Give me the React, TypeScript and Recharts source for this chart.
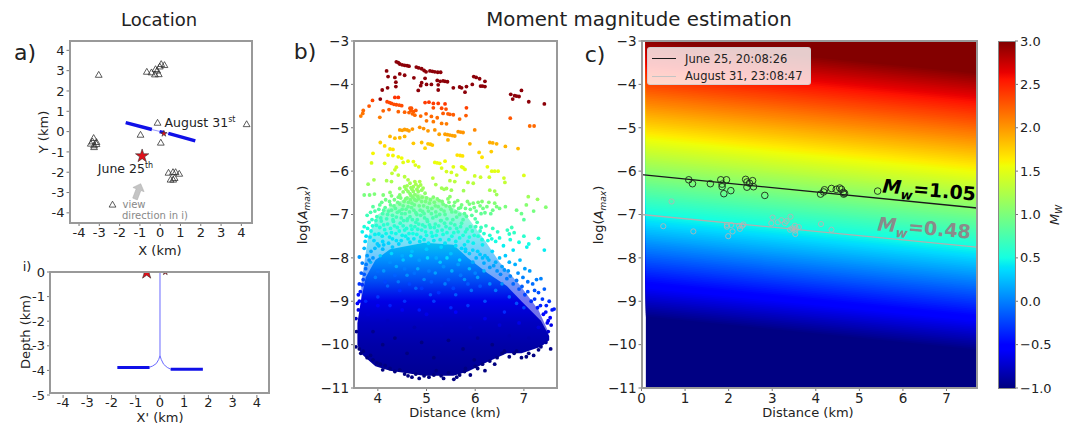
import type { CSSProperties, ReactNode } from 'react'
import { Area, ComposedChart, Line, ReferenceArea, Scatter, Symbols, XAxis, YAxis } from 'recharts'

type Pt = [number, number]

const FONT = '"DejaVu Sans", sans-serif'
const INK = '#222'
const SPINE = '#999'

// panel a: station triangles and event stars, km
const stations: Pt[] = [
  [-3.03, 2.77], [-0.66, 2.92], [-0.43, 2.89], [-0.23, 3.05], [-0.26, 2.79], [-0.07, 2.8], [-0.15, 2.98],
  [-0.02, 3.18], [0.05, 3.3], [0.21, 3.25], [-0.13, 0.41], [4.26, 0.34], [-0.97, -0.18], [0.03, -0.57],
  [-3.28, -0.34], [-3.34, -0.51], [-3.14, -0.54], [-3.42, -0.62], [-3.26, -0.7], [-3.14, -0.64], [-3.26, -0.79],
  [0.41, -2.05], [0.63, -2.02], [0.76, -2.02], [0.94, -2.1], [0.51, -2.39], [0.64, -2.39], [0.71, -2.31],
  [-2.35, -3.62],
]
const juneStar: Pt[] = [[-0.89, -1.2]]
const augStar: Pt[] = [[0.18, -0.1]]
const wellWest: Pt[] = [[-1.7, 0.44], [-0.41, 0.1]]
const wellMiddle: Pt[] = [[-0.41, 0.1], [0.4, -0.09]]
const wellCentre: Pt[] = [[-0.03, 0.0], [0.2, -0.05]]
const wellEast: Pt[] = [[0.4, -0.09], [1.73, -0.46]]

// panel i: section view
const sectionWest: Pt[] = [[-1.76, -3.88], [-0.43, -3.88]]
const sectionEast: Pt[] = [[0.44, -3.95], [1.77, -3.95]]
const boreWest: Pt[] = [[0, 0], [0, -3.4], [-0.05, -3.55], [-0.15, -3.72], [-0.3, -3.82], [-0.43, -3.87]]
const boreEast: Pt[] = [[0, -3.4], [0.05, -3.55], [0.15, -3.75], [0.3, -3.88], [0.44, -3.95]]
const sectionJune: Pt[] = [[-0.55, -0.02]]
const sectionAug: Pt[] = [[0.22, 0.0]]

// panel b: distance, log(Amax)
const darkRedPts: Pt[] = [
  [4.38, -3.48], [4.45, -3.53], [4.55, -3.56], [4.64, -3.58], [4.79, -3.6], [4.9, -3.64], [4.99, -3.71], [5.07, -3.69],
  [5.17, -3.71], [5.29, -3.72], [4.18, -3.69], [4.21, -3.82], [4.35, -3.84], [4.45, -3.76], [4.55, -3.79], [4.74, -3.85],
  [4.97, -3.86], [4.9, -3.96], [4.88, -4.03], [4.83, -4.14], [5.0, -4.0], [5.1, -4.0], [5.24, -4.01], [5.22, -3.91],
  [5.34, -3.92], [5.43, -3.94], [5.24, -4.13], [5.55, -4.08], [5.72, -4.08], [5.82, -4.05], [5.79, -4.18], [5.94, -4.0],
  [5.97, -3.82], [6.09, -3.87], [6.11, -4.04], [6.2, -4.05], [6.2, -3.93], [4.09, -4.13], [4.2, -4.08], [4.37, -3.95],
  [4.37, -4.05], [4.05, -4.34], [6.73, -4.23], [6.81, -4.26], [6.9, -4.28], [6.77, -4.34], [6.95, -4.14], [7.1, -4.4],
  [7.42, -4.45], [4.42, -3.5], [4.5, -3.55], [4.6, -3.57], [4.84, -3.62], [4.95, -3.68], [5.12, -3.7], [5.23, -3.72],
  [5.28, -3.93], [5.38, -3.93], [5.68, -4.06], [6.02, -3.84], [6.15, -4.04], [6.85, -4.27],
]
const orangeRedPts: Pt[] = [
  [4.35, -4.3], [4.42, -4.3], [3.89, -4.37], [3.82, -4.5], [3.7, -4.6], [3.69, -4.67], [3.65, -4.73], [4.11, -4.61],
  [4.04, -4.76], [4.23, -4.58], [4.19, -4.4], [4.28, -4.44], [4.38, -4.47], [4.49, -4.49], [4.42, -4.63], [4.55, -4.64],
  [4.69, -4.55], [4.73, -4.63], [4.76, -4.71], [4.64, -4.65], [4.97, -4.42], [5.05, -4.41], [5.14, -4.44], [5.24, -4.44],
  [5.38, -4.45], [5.14, -4.54], [5.31, -4.55], [5.4, -4.57], [5.34, -4.67], [5.44, -4.68], [5.55, -4.7], [4.99, -4.68],
  [5.1, -4.74], [5.22, -4.77], [4.88, -4.73], [5.0, -4.84], [5.14, -4.86], [5.31, -4.9], [5.41, -4.91], [5.68, -4.8],
  [5.81, -4.72], [5.82, -4.54], [6.72, -4.78], [7.12, -4.96], [7.21, -4.96], [5.99, -5.05], [4.24, -4.42], [4.33, -4.46],
  [4.44, -4.48], [4.68, -4.6], [4.71, -4.68], [4.78, -4.6], [4.66, -4.55], [5.48, -4.69],
]
const orangePts: Pt[] = [
  [4.45, -5.05], [4.55, -5.04], [4.64, -5.07], [4.71, -5.03], [4.86, -4.99], [4.94, -5.02], [5.03, -5.07], [5.17, -5.05],
  [5.26, -5.15], [4.25, -5.2], [4.35, -5.24], [4.45, -5.23], [4.55, -5.2], [5.38, -5.15], [5.48, -5.17], [5.58, -5.19],
  [5.65, -5.09], [5.75, -5.11], [5.44, -5.28], [4.73, -5.36], [4.9, -5.34], [5.03, -5.37], [5.12, -5.4], [4.97, -5.47],
  [4.05, -5.34], [4.14, -5.42], [4.25, -5.49], [4.31, -5.5], [6.3, -5.34], [6.44, -5.37], [6.62, -5.43], [6.88, -5.48],
  [5.89, -5.37], [3.9, -5.59], [6.08, -5.57], [6.33, -5.55], [4.5, -5.06], [4.6, -5.05], [5.43, -5.16], [5.53, -5.18],
  [5.7, -5.1], [5.08, -5.38], [6.36, -5.35],
]
const yellowPts: Pt[] = [
  [4.21, -5.63], [4.31, -5.64], [4.42, -5.67], [4.49, -5.7], [5.63, -5.63], [5.74, -5.65], [6.14, -5.68], [3.87, -5.81],
  [4.14, -5.82], [4.52, -5.8], [4.62, -5.77], [4.73, -5.78], [4.77, -5.86], [4.84, -5.9], [5.17, -5.8], [5.27, -5.82],
  [5.38, -5.77], [5.31, -5.93], [4.38, -5.91], [4.35, -5.97], [5.41, -6.01], [5.51, -6.03], [5.62, -6.09], [5.55, -5.9],
  [5.72, -5.9], [5.79, -5.96], [6.25, -5.9], [6.34, -6.0], [6.47, -6.0], [5.99, -6.11], [6.11, -6.14], [6.29, -6.14],
  [6.59, -6.16], [7.0, -6.1], [5.69, -5.64], [5.75, -5.92], [5.22, -5.81], [6.4, -6.0],
]
const limePts: Pt[] = [
  [4.29, -6.05], [4.42, -6.09], [4.55, -6.13], [4.62, -6.2], [4.18, -6.22], [4.28, -6.24], [3.92, -6.2], [3.8, -6.3],
  [5.48, -6.22], [5.58, -6.24], [5.85, -6.26], [5.96, -6.28], [5.19, -6.31], [5.31, -6.39], [5.41, -6.4], [5.51, -6.44],
  [5.13, -6.16], [6.61, -6.26], [6.3, -6.44], [6.4, -6.46], [6.44, -6.54], [4.45, -6.4], [4.55, -6.36], [4.66, -6.28],
  [4.76, -6.24], [4.86, -6.24], [4.73, -6.36], [4.83, -6.36], [4.93, -6.39], [4.62, -6.47], [4.73, -6.47], [4.83, -6.47],
  [4.97, -6.51], [4.45, -6.55], [5.76, -6.45], [5.48, -6.59], [3.72, -6.55], [3.83, -6.55], [3.93, -6.53], [4.11, -6.55],
  [4.25, -6.49], [4.28, -6.57], [7.09, -6.59], [7.28, -6.65], [4.6, -6.34], [4.68, -6.38], [4.78, -6.3], [4.88, -6.32],
  [4.58, -6.42], [4.7, -6.42], [4.8, -6.42], [4.9, -6.44], [4.52, -6.48], [4.66, -6.52], [4.76, -6.54], [5.36, -6.42],
]
const greenPts: Pt[] = [
  [3.78, -7.02], [3.85, -6.95], [3.9, -6.82], [3.98, -7.05], [4.02, -6.88], [4.08, -6.72], [4.1, -6.98], [4.15, -6.84],
  [4.18, -7.1], [4.22, -6.92], [4.26, -6.78], [4.3, -7.02], [4.34, -6.66], [4.36, -6.86], [4.4, -6.95], [4.42, -6.6],
  [4.45, -6.76], [4.48, -7.08], [4.5, -6.88], [4.54, -6.7], [4.56, -6.98], [4.6, -6.62], [4.62, -6.82], [4.66, -7.05],
  [4.68, -6.56], [4.7, -6.74], [4.74, -6.9], [4.76, -6.66], [4.8, -7.0], [4.82, -6.58], [4.85, -6.8], [4.9, -6.7],
  [4.92, -6.93], [4.96, -7.08], [5.0, -6.62], [5.02, -6.84], [5.06, -6.74], [5.1, -6.98], [5.14, -6.6], [5.18, -6.8],
  [5.2, -7.04], [5.26, -6.68], [5.3, -6.88], [5.34, -6.76], [5.38, -7.0], [5.44, -6.64], [5.48, -6.82], [5.52, -6.94],
  [5.58, -6.72], [5.62, -7.06], [5.66, -6.86], [5.72, -6.78], [5.78, -6.98], [5.84, -6.7], [5.9, -6.88], [5.96, -6.74],
  [6.02, -6.92], [6.1, -6.8], [6.14, -6.7], [6.2, -6.96], [6.28, -6.72], [6.36, -6.9], [6.44, -6.82], [6.5, -6.86],
  [6.62, -6.82], [6.85, -6.9], [6.95, -6.98], [7.05, -6.78], [7.45, -6.83], [7.2, -6.92], [7.0, -7.12], [6.75, -7.3],
  [6.7, -7.45], [3.88, -7.12], [3.94, -6.92], [3.96, -7.14], [4.04, -6.78], [4.06, -7.08], [4.12, -6.9], [4.16, -6.66],
  [4.2, -7.0], [4.24, -6.7], [4.28, -6.9], [4.31, -7.12], [4.33, -6.8], [4.38, -7.06], [4.41, -6.72], [4.44, -6.92],
  [4.47, -6.62], [4.49, -6.98], [4.52, -6.8], [4.53, -7.14], [4.57, -6.64], [4.58, -6.88], [4.61, -7.1], [4.63, -6.72],
  [4.65, -6.94], [4.67, -6.66], [4.69, -6.84], [4.71, -7.12], [4.72, -6.6], [4.75, -6.78], [4.78, -6.96], [4.79, -6.68],
  [4.81, -7.12], [4.84, -6.64], [4.87, -6.9], [4.88, -7.02], [4.91, -6.6], [4.94, -6.8], [4.95, -6.98], [4.98, -6.7],
  [5.01, -7.12], [5.04, -6.92], [5.08, -6.66], [5.11, -6.86], [5.13, -7.08], [5.16, -6.72], [5.19, -6.94], [5.22, -6.64],
  [5.24, -6.82], [5.27, -7.0], [5.29, -7.14], [5.32, -6.7], [5.36, -6.92], [5.4, -6.8], [5.42, -7.1], [5.46, -6.72],
  [5.5, -6.88], [5.54, -7.12], [5.56, -6.8], [5.6, -6.94], [5.64, -6.68], [5.68, -7.0], [5.7, -6.84], [5.75, -7.12],
  [5.8, -6.86], [5.82, -7.04], [5.88, -6.76], [5.93, -7.02], [5.98, -6.84], [6.0, -7.1], [6.06, -6.72], [6.12, -6.98],
  [6.16, -6.86], [6.24, -6.82], [6.32, -6.98], [6.4, -6.74],
]
const cyanPts: Pt[] = [
  [3.72, -7.28], [3.76, -7.5], [3.82, -7.18], [3.86, -7.38], [3.92, -7.6], [3.97, -7.25], [4.02, -7.45], [4.07, -7.15],
  [4.1, -7.62], [4.14, -7.35], [4.2, -7.22], [4.24, -7.52], [4.28, -7.42], [4.32, -7.16], [4.38, -7.6], [4.4, -7.3],
  [4.46, -7.2], [4.5, -7.48], [4.55, -7.36], [4.6, -7.14], [4.62, -7.56], [4.68, -7.26], [4.72, -7.44], [4.78, -7.18],
  [4.82, -7.34], [4.88, -7.52], [4.92, -7.24], [4.98, -7.4], [5.02, -7.16], [5.08, -7.3], [5.12, -7.5], [5.18, -7.22],
  [5.22, -7.38], [5.3, -7.14], [5.34, -7.46], [5.4, -7.28], [5.46, -7.58], [5.5, -7.2], [5.56, -7.42], [5.62, -7.32],
  [5.68, -7.54], [5.72, -7.2], [5.8, -7.4], [5.85, -7.62], [5.9, -7.28], [5.98, -7.48], [6.04, -7.18], [6.1, -7.38],
  [6.14, -7.58], [6.22, -7.26], [6.3, -7.48], [6.36, -7.32], [6.42, -7.62], [6.5, -7.54], [6.58, -7.72], [6.66, -7.36],
  [6.72, -7.58], [6.8, -7.42], [6.9, -7.64], [7.0, -7.5], [7.1, -7.68], [7.3, -7.55], [7.42, -7.82], [3.68, -7.4],
  [3.74, -7.62], [3.79, -7.32], [3.84, -7.52], [3.89, -7.26], [3.94, -7.46], [3.99, -7.68], [4.04, -7.3], [4.09, -7.5],
  [4.12, -7.24], [4.17, -7.44], [4.22, -7.66], [4.26, -7.32], [4.3, -7.56], [4.34, -7.26], [4.37, -7.44], [4.43, -7.68],
  [4.44, -7.38], [4.48, -7.6], [4.52, -7.26], [4.57, -7.5], [4.59, -7.32], [4.64, -7.44], [4.66, -7.64], [4.7, -7.34],
  [4.74, -7.56], [4.76, -7.28], [4.8, -7.46], [4.84, -7.22], [4.86, -7.62], [4.9, -7.36], [4.95, -7.58], [4.97, -7.28],
  [5.0, -7.48], [5.04, -7.66], [5.06, -7.24], [5.1, -7.42], [5.15, -7.6], [5.16, -7.3], [5.2, -7.48], [5.25, -7.26],
  [5.28, -7.58], [5.32, -7.36], [5.37, -7.2], [5.38, -7.66], [5.42, -7.42], [5.48, -7.32], [5.52, -7.5], [5.58, -7.24],
  [5.6, -7.62], [5.65, -7.4], [5.7, -7.28], [5.75, -7.48], [5.78, -7.7], [5.83, -7.34], [5.88, -7.52], [5.94, -7.38],
  [5.96, -7.66], [6.01, -7.28], [6.06, -7.5], [6.12, -7.3], [6.18, -7.44], [6.26, -7.6], [6.34, -7.56], [6.46, -7.4],
]
const blueEdgePts: Pt[] = [
  [3.62, -7.98], [3.68, -8.12], [3.66, -8.35], [3.72, -7.78], [3.78, -7.95], [3.62, -8.6], [3.6, -8.85], [3.7, -8.5],
  [3.75, -8.25], [3.58, -9.05], [6.05, -7.85], [6.15, -7.7], [6.2, -7.95], [6.28, -8.05], [6.35, -7.85], [6.42, -8.1],
  [6.5, -8.0], [6.55, -8.2], [6.62, -7.95], [6.68, -8.3], [6.7, -8.1], [6.78, -7.82], [6.82, -8.15], [6.88, -8.35],
  [6.92, -8.05], [6.98, -8.45], [7.02, -8.25], [7.06, -7.75], [7.08, -8.55], [7.12, -8.3], [7.18, -8.6], [7.22, -8.75],
  [7.26, -8.5], [7.3, -8.8], [7.35, -8.48], [7.38, -8.95], [7.42, -8.72], [7.46, -9.1], [7.52, -9.0], [7.54, -9.38],
  [7.48, -9.5], [7.58, -9.2], [7.5, -9.7], [7.62, -9.18], [7.56, -9.55], [7.45, -9.95], [7.55, -10.1], [7.35, -10.05],
  [7.2, -10.25], [7.1, -10.2], [6.95, -10.3], [6.85, -10.15], [6.7, -10.28], [6.55, -10.2], [6.4, -10.45], [6.3, -10.38],
  [6.2, -10.6], [6.05, -10.55], [5.98, -10.35], [5.9, -10.7], [5.78, -10.62], [5.62, -10.75], [5.56, -10.8], [5.45, -10.65],
  [5.3, -10.72], [5.15, -10.7], [5.05, -10.75], [4.85, -10.78], [4.7, -10.75], [4.55, -10.68], [4.35, -10.62], [4.1, -10.58],
  [4.05, -10.45], [3.9, -10.35], [3.78, -10.3], [3.65, -10.2], [3.55, -10.05], [3.56, -9.7], [3.55, -9.4], [5.6, -7.72],
  [5.72, -7.78], [5.8, -7.8], [5.88, -7.9], [5.95, -7.82], [6.02, -8.0], [6.1, -7.92], [6.18, -8.12], [6.25, -8.0],
  [6.3, -8.22], [6.38, -8.18], [6.45, -8.3], [6.52, -8.38], [6.6, -8.28], [6.65, -8.48], [6.72, -8.42], [6.78, -8.6],
  [6.85, -8.52], [6.9, -8.72], [6.96, -8.66], [7.02, -8.85], [7.08, -8.78], [7.15, -9.0], [7.22, -8.95], [7.28, -9.15],
  [7.34, -9.1], [7.4, -9.3], [7.45, -9.25], [7.5, -9.45], [3.6, -9.2], [3.62, -9.0], [3.64, -8.78], [3.68, -8.62],
  [3.72, -8.38], [3.76, -8.15], [3.82, -8.05], [3.86, -7.85], [3.94, -7.78], [4.02, -7.72], [4.12, -7.7], [6.8, -10.2],
  [6.6, -10.15], [6.45, -10.3], [6.15, -10.45], [6.0, -10.5], [5.8, -10.55], [5.68, -10.7], [5.35, -10.78], [5.2, -10.6],
  [4.95, -10.72], [4.78, -10.68], [4.62, -10.72], [4.45, -10.58], [4.25, -10.55], [4.15, -10.48], [3.98, -10.42], [3.85, -10.25],
  [3.7, -10.15], [3.62, -10.1], [7.3, -10.12], [7.42, -9.85], [7.05, -10.28],
]
const blueInnerPts: Pt[] = [
  [3.9, -8.0], [4.0, -8.3], [4.1, -7.8], [4.15, -8.55], [4.25, -8.1], [4.3, -7.75], [4.35, -8.4], [4.45, -8.75],
  [4.5, -7.95], [4.55, -8.25], [4.65, -8.6], [4.7, -7.85], [4.75, -8.35], [4.85, -8.05], [4.9, -8.7], [5.0, -7.8],
  [5.05, -8.3], [5.1, -8.55], [5.2, -8.0], [5.25, -8.8], [5.3, -7.75], [5.35, -8.2], [5.45, -8.5], [5.5, -7.9],
  [5.55, -8.7], [5.65, -8.15], [5.7, -8.4], [5.8, -7.85], [5.85, -8.6], [5.95, -8.1], [6.0, -8.35], [6.1, -8.65],
  [6.15, -8.0], [3.8, -9.3], [3.9, -9.7], [4.0, -9.1], [4.1, -10.0], [4.2, -9.45], [4.35, -9.85], [4.5, -9.2],
  [4.6, -10.2], [4.75, -9.6], [4.9, -9.95], [5.0, -9.3], [5.15, -10.3], [5.3, -9.55], [5.45, -9.9], [5.6, -9.25],
  [5.75, -10.1], [5.9, -9.6], [6.05, -9.85], [6.2, -9.4], [6.35, -10.0], [6.5, -9.55], [6.7, -9.8], [6.9, -9.5],
  [7.1, -9.85], [7.3, -9.6],
]
// noisy paler events inside the cloud
const paleBluePts: Pt[] = [
  [3.85, -8.1], [3.95, -8.45], [4.05, -7.95], [4.12, -8.3], [4.2, -8.65], [4.28, -7.9], [4.38, -8.2], [4.42, -8.55],
  [4.52, -8.05], [4.6, -8.4], [4.68, -7.95], [4.78, -8.7], [4.82, -8.25], [4.95, -8.5], [5.02, -8.0], [5.08, -8.85],
  [5.18, -8.35], [5.28, -8.1], [5.38, -8.6], [5.42, -8.0], [5.52, -8.3], [5.6, -8.85], [5.68, -8.05], [5.78, -8.5],
  [5.88, -8.25], [5.92, -8.75], [6.05, -8.45], [6.18, -8.3], [6.3, -8.6], [6.42, -8.75], [6.55, -8.6], [6.7, -8.9],
  [6.85, -9.05], [7.0, -9.15], [4.0, -8.9], [4.25, -9.1], [4.55, -9.0], [4.85, -9.2], [5.15, -9.0], [5.5, -9.15],
  [5.85, -9.1], [6.2, -9.0], [6.6, -9.25], [3.75, -9.0],
]
// outline of the solid part of the cloud
const cloudDistance = [3.58, 3.65, 3.75, 3.95, 4.25, 4.95, 5.55, 5.85, 6.25, 6.65, 6.95, 7.35, 7.52]
const cloudTop = [-9.5, -9.0, -8.45, -8.05, -7.8, -7.65, -7.7, -8.0, -8.35, -8.65, -9.0, -9.45, -9.8]
const cloudBottom = [-10.0, -10.2, -10.3, -10.5, -10.6, -10.72, -10.72, -10.62, -10.4, -10.2, -10.2, -10.05, -9.9]
const cloudStops: [number, string][] = [
  [-7.65, '#04c4f0'], [-8, '#0096ff'], [-8.5, '#0050f5'], [-9, '#0000e6'], [-9.5, '#0000c0'], [-10, '#0000a8'], [-10.72, '#000092'],
]
// outline of the speckled zone above it, where white still shows between the events
const hazeDistance = [3.66, 3.8, 4.0, 4.35, 4.8, 5.3, 5.8, 6.2, 6.5, 6.9, 7.3, 7.5]
const hazeTop = [-8.6, -7.5, -7.0, -6.75, -6.5, -6.7, -7.0, -7.6, -8.1, -8.6, -9.2, -9.7]
const hazeBottom = [-9.4, -9.2, -8.6, -8.3, -8.2, -8.2, -8.6, -9.0, -9.3, -9.6, -9.8, -9.85]
const hazeStops: [number, string][] = [
  [-6.5, '#8cff70'], [-7, '#40f8b0'], [-7.5, '#10d8e8'], [-8, '#0096ff'], [-8.5, '#0050f5'], [-9, '#0000e6'], [-9.85, '#0000c0'],
]

// panel c: events and fitted lines
const juneEvents: Pt[] = [
  [1.085, -6.2], [1.17, -6.29], [1.58, -6.29], [1.82, -6.2], [1.95, -6.2], [1.85, -6.3], [1.85, -6.36], [2.05, -6.45],
  [1.89, -6.52], [2.39, -6.19], [2.42, -6.25], [2.55, -6.22], [2.48, -6.28], [2.42, -6.37], [2.57, -6.36], [2.83, -6.56],
  [4.11, -6.53], [4.18, -6.48], [4.2, -6.43], [4.36, -6.4], [4.47, -6.42], [4.55, -6.39], [4.59, -6.42], [4.63, -6.49],
  [4.66, -6.51], [4.64, -6.53], [5.42, -6.46],
]
const augEvents: Pt[] = [
  [0.69, -6.7], [0.5, -7.27], [1.19, -7.39], [1.96, -7.28], [1.96, -7.24], [2.06, -7.24], [2.09, -7.39], [1.99, -7.5],
  [2.24, -7.26], [2.26, -7.33], [2.31, -7.26], [2.34, -7.23], [3.01, -7.07], [2.98, -7.2], [3.13, -7.18], [3.21, -7.13],
  [3.29, -7.2], [3.33, -7.15], [3.42, -7.05], [3.41, -7.35], [3.46, -7.32], [3.52, -7.26], [3.54, -7.32], [3.53, -7.37],
  [3.53, -7.45], [3.61, -7.29], [4.12, -7.22], [4.36, -7.35],
]
const juneFit: Pt[] = [[0, -6.08], [7.7, -6.85]]
const augFit: Pt[] = [[0, -7.0], [7.7, -7.75]]
const legendEntries = [
  { label: 'June 25, 20:08:26', color: '#1a1a1a' },
  { label: 'August 31, 23:08:47', color: '#c4c4c4' },
]

const kmTicks = [-4, -3, -2, -1, 0, 1, 2, 3, 4]
const depthTicks = [0, -1, -2, -3, -4, -5]
const distanceTicksB = [4, 5, 6, 7]
const distanceTicksC = [0, 1, 2, 3, 4, 5, 6, 7]
const logTicks = [-3, -4, -5, -6, -7, -8, -9, -10, -11]
const mwTicks = [-1, -0.5, 0, 0.5, 1, 1.5, 2, 2.5, 3]
const jetOffsets = [0, 0.11, 0.125, 0.34, 0.35, 0.375, 0.64, 0.65, 0.66, 0.89, 0.91, 1]

// matplotlib jet
function jet(t: number) {
  const c = Math.max(0, Math.min(1, t))
  const ramp = (a: number, b: number) => Math.max(0, Math.min(1, (c - a) / (b - a)))
  const r = c < 0.89 ? ramp(0.35, 0.66) : 1 - 0.5 * ramp(0.89, 1)
  const g = c < 0.64 ? ramp(0.125, 0.375) : 1 - ramp(0.64, 0.91)
  const b = c < 0.34 ? 0.5 + 0.5 * ramp(0, 0.11) : 1 - ramp(0.34, 0.65)
  return `rgb(${Math.round(r * 255)},${Math.round(g * 255)},${Math.round(b * 255)})`
}

// Mw from the attenuation fit
const FIT_SLOPE = 0.1
const FIT_GAIN = 1.61
const logAtZero = (mw: number) => -6.08 + (mw - 1.05) * FIT_GAIN
const mwAt = (d: number, logA: number) => 1.05 + (logA + 6.08 + FIT_SLOPE * d) / FIT_GAIN
const mwColor = (mw: number) => jet((mw + 1) / 4)

const toRows = (pts: Pt[]) => pts.map(([x, y]) => ({ x, y }))

// background of panel c: each strip runs up to the top and the next one paints over it, so no seams
const BAND_COUNT = 160
const BAND_EDGES = [0.1, 7.7]
const bandColors = Array.from({ length: BAND_COUNT }, (_, i) => mwColor(-1 + (i + 0.5) * 0.025))
const bandRows = BAND_EDGES.map((x) => {
  const row: Record<string, number | number[]> = { x }
  bandColors.forEach((_, i) => {
    const lo = i === 0 ? -14 : logAtZero(-1 + i * 0.025)
    row[`b${i}`] = [lo - FIT_SLOPE * x, -1]
  })
  return row
})
const cloudRows = cloudDistance.map((x, i) => ({ x, range: [cloudBottom[i], cloudTop[i]] }))
const hazeRows = hazeDistance.map((x, i) => ({ x, range: [hazeBottom[i], hazeTop[i]] }))

const dash = (v: number) => String(v)
const minus = (v: number) => String(v).replace('-', '\u2212')
const minusFixed = (v: number) => v.toFixed(1).replace('-', '\u2212')

const Dot = (p: any) => <circle cx={p.cx} cy={p.cy} r={1.9} fill={mwColor(mwAt(p.payload.x, p.payload.y))} />
const PaleDot = (p: any) => <circle cx={p.cx} cy={p.cy} r={1.8} fill={mwColor(mwAt(p.payload.x, p.payload.y) + 0.17)} />
const DarkRedDot = (p: any) => <circle cx={p.cx} cy={p.cy} r={1.9} fill="#8c0008" />
const Triangle = (p: any) => (
  <Symbols cx={p.cx} cy={p.cy} type="triangle" size={20} fill="none" stroke="#333" strokeWidth={0.8} />
)
const starShape = (size: number) => (p: any) => (
  <Symbols cx={p.cx} cy={p.cy} type="star" size={size} fill="#e0101a" stroke="#333" strokeWidth={0.6} />
)
const ring = (r: number, stroke: string, width: number) => (p: any) => (
  <circle cx={p.cx} cy={p.cy} r={r} fill="none" stroke={stroke} strokeWidth={width} />
)

function Txt({ x, y, size = 13, rotate = 0, style, children }: { x: number; y: number; size?: number; rotate?: number; style?: CSSProperties; children: ReactNode }) {
  return (
    <div
      style={{
        position: 'absolute',
        left: x,
        top: y,
        transform: `translate(-50%,-50%) rotate(${rotate}deg)`,
        fontFamily: FONT,
        fontSize: size,
        color: INK,
        whiteSpace: 'nowrap',
        lineHeight: 1,
        ...style,
      }}
    >
      {children}
    </div>
  )
}

function Frame({ left, top, width, height }: { left: number; top: number; width: number; height: number }) {
  return (
    <div
      style={{
        position: 'absolute',
        left: left - 1,
        top: top - 1,
        width: width + 2,
        height: height + 2,
        boxSizing: 'border-box',
        border: `2px solid ${SPINE}`,
      }}
    />
  )
}

const AmaxLabel = () => (
  <span>
    log(<i>A</i>
    <sub style={{ fontSize: 9, fontStyle: 'italic' }}>max</sub>)
  </span>
)

const tickStyle = (fontSize: number) => ({ fontSize, fill: INK, fontFamily: FONT })
const tickLine = { stroke: '#777', strokeWidth: 1 }

export default function App() {
  const xAxis = (domain: number[], ticks: number[], fontSize: number, tickMargin = 2) => (
    <XAxis
      type="number"
      dataKey="x"
      domain={domain}
      ticks={ticks}
      interval={0}
      allowDataOverflow
      axisLine={false}
      tickLine={tickLine}
      tickSize={3}
      tickMargin={tickMargin}
      tick={tickStyle(fontSize)}
      tickFormatter={dash}
      height={24}
    />
  )
  const yAxis = (domain: number[], ticks: number[], fontSize: number, fmt = dash) => (
    <YAxis
      type="number"
      dataKey="y"
      domain={domain}
      ticks={ticks}
      interval={0}
      allowDataOverflow
      axisLine={false}
      tickLine={tickLine}
      tickSize={3}
      tick={tickStyle(fontSize)}
      tickFormatter={fmt}
      width={40}
    />
  )

  return (
    <div style={{ position: 'absolute', left: 0, top: 0, width: 1067, height: 423, background: '#fff', overflow: 'hidden' }}>
      {/* a) map */}
      <div style={{ position: 'absolute', left: 0, top: 30 }}>
        <ComposedChart width={270} height={225} margin={{ top: 11, right: 18.5, bottom: 8, left: 29.5 }}>
          {xAxis([-4.47, 4.5], kmTicks, 13)}
          {yAxis([-4.5, 4.46], kmTicks, 13)}
          <Line data={toRows(wellMiddle)} dataKey="y" stroke="#9a9aff" strokeWidth={1} dot={false} isAnimationActive={false} />
          <Line data={toRows(wellWest)} dataKey="y" stroke="#1010e8" strokeWidth={3.5} dot={false} isAnimationActive={false} />
          <Line data={toRows(wellCentre)} dataKey="y" stroke="#1010e8" strokeWidth={3.5} dot={false} isAnimationActive={false} />
          <Line data={toRows(wellEast)} dataKey="y" stroke="#1010e8" strokeWidth={3.5} dot={false} isAnimationActive={false} />
          <Scatter data={toRows(stations)} shape={Triangle} isAnimationActive={false} />
          <Scatter data={toRows(juneStar)} shape={starShape(55)} isAnimationActive={false} />
          <Scatter data={toRows(augStar)} shape={starShape(12)} isAnimationActive={false} />
        </ComposedChart>
      </div>
      <Frame left={69.5} top={41} width={182} height={182} />

      {/* i) section */}
      <div style={{ position: 'absolute', left: 0, top: 262 }}>
        <ComposedChart width={280} height={160} margin={{ top: 10, right: 11, bottom: 3, left: 10 }}>
          {xAxis([-4.54, 4.5], kmTicks, 13, 0)}
          {yAxis([-5, 0], depthTicks, 13)}
          <Line data={toRows(boreWest)} dataKey="y" stroke="#6a6aff" strokeWidth={1} dot={false} isAnimationActive={false} />
          <Line data={toRows(boreEast)} dataKey="y" stroke="#6a6aff" strokeWidth={1} dot={false} isAnimationActive={false} />
          <Line data={toRows(sectionWest)} dataKey="y" stroke="#1010e8" strokeWidth={3} dot={false} isAnimationActive={false} />
          <Line data={toRows(sectionEast)} dataKey="y" stroke="#1010e8" strokeWidth={3} dot={false} isAnimationActive={false} />
          <Scatter data={toRows(sectionJune)} shape={starShape(55)} isAnimationActive={false} />
          <Scatter data={toRows(sectionAug)} shape={starShape(12)} isAnimationActive={false} />
        </ComposedChart>
      </div>
      <Frame left={50} top={272} width={219} height={121} />

      {/* b) amplitude against distance */}
      <div style={{ position: 'absolute', left: 300, top: 30 }}>
        <ComposedChart width={270} height={375} margin={{ top: 11, right: 13, bottom: -7, left: 14 }}>
          <defs>
            <linearGradient id="cloudFill" x1="0" y1="0" x2="0" y2="1">
              {cloudStops.map(([v, color]) => (
                <stop key={v} offset={(cloudTop[5] - v) / (cloudTop[5] - cloudBottom[5])} stopColor={color} />
              ))}
            </linearGradient>
            <linearGradient id="hazeFill" x1="0" y1="0" x2="0" y2="1">
              {hazeStops.map(([v, color]) => (
                <stop key={v} offset={(hazeTop[4] - v) / (hazeTop[4] + 9.85)} stopColor={color} />
              ))}
            </linearGradient>
          </defs>
          {xAxis([3.51, 7.68], distanceTicksB, 13.5)}
          {yAxis([-11, -3], logTicks, 13.5, minus)}
          <Area data={hazeRows} dataKey="range" fill="url(#hazeFill)" fillOpacity={0.55} stroke="none" dot={false} activeDot={false} isAnimationActive={false} />
          <Area data={cloudRows} dataKey="range" fill="url(#cloudFill)" fillOpacity={1} stroke="none" dot={false} activeDot={false} isAnimationActive={false} />
          <Scatter data={toRows(blueInnerPts)} shape={Dot} isAnimationActive={false} />
          <Scatter data={toRows(paleBluePts)} shape={PaleDot} isAnimationActive={false} />
          <Scatter data={toRows(blueEdgePts)} shape={Dot} isAnimationActive={false} />
          <Scatter data={toRows(cyanPts)} shape={Dot} isAnimationActive={false} />
          <Scatter data={toRows(greenPts)} shape={Dot} isAnimationActive={false} />
          <Scatter data={toRows(limePts)} shape={Dot} isAnimationActive={false} />
          <Scatter data={toRows(yellowPts)} shape={Dot} isAnimationActive={false} />
          <Scatter data={toRows(orangePts)} shape={Dot} isAnimationActive={false} />
          <Scatter data={toRows(orangeRedPts)} shape={Dot} isAnimationActive={false} />
          <Scatter data={toRows(darkRedPts)} shape={DarkRedDot} isAnimationActive={false} />
        </ComposedChart>
      </div>
      <Frame left={354} top={41} width={203} height={347} />

      {/* c) Mw field */}
      <div style={{ position: 'absolute', left: 590, top: 30 }}>
        <ComposedChart width={400} height={375} margin={{ top: 11, right: 13, bottom: -7, left: 11.5 }}>
          {xAxis([0, 7.7], distanceTicksC, 13.5)}
          {yAxis([-11, -3], logTicks, 13.5, minus)}
          {bandColors.map((color, i) => (
            <Area
              key={i}
              data={bandRows}
              dataKey={`b${i}`}
              fill={color}
              fillOpacity={1}
              stroke="none"
              dot={false}
              activeDot={false}
              legendType="none"
              isAnimationActive={false}
            />
          ))}
          <Line data={toRows(juneFit)} dataKey="y" stroke="#1a1a1a" strokeWidth={1.3} dot={false} isAnimationActive={false} />
          <Line data={toRows(augFit)} dataKey="y" stroke="#b0b0b0" strokeWidth={1.3} dot={false} isAnimationActive={false} />
          <Scatter data={toRows(augEvents)} shape={ring(2.6, '#b4b4b4', 0.9)} isAnimationActive={false} />
          <Scatter data={toRows(juneEvents)} shape={ring(3.3, '#1c2a1c', 0.9)} isAnimationActive={false} />
        </ComposedChart>
      </div>
      <Frame left={641.5} top={41} width={335.5} height={347} />

      {/* colour bar */}
      <div style={{ position: 'absolute', left: 990, top: 30 }}>
        <ComposedChart width={77} height={370} data={[{ x: 0, y: -1 }, { x: 1, y: 3 }]} margin={{ top: 11, right: 12, bottom: 12, left: 8 }}>
          <defs>
            <linearGradient id="jetBar" x1="0" y1="1" x2="0" y2="0">
              {jetOffsets.map((o) => (
                <stop key={o} offset={o} stopColor={jet(o)} />
              ))}
            </linearGradient>
          </defs>
          <XAxis type="number" dataKey="x" domain={[0, 1]} hide />
          <YAxis
            type="number"
            dataKey="y"
            orientation="right"
            domain={[-1, 3]}
            ticks={mwTicks}
            interval={0}
            axisLine={false}
            tickLine={tickLine}
            tickSize={3}
            tick={tickStyle(13)}
            tickFormatter={minusFixed}
            width={40}
          />
          <ReferenceArea x1={0} x2={1} y1={-1} y2={3} fill="url(#jetBar)" fillOpacity={1} stroke="none" />
        </ComposedChart>
      </div>
      <div style={{ position: 'absolute', left: 997.5, top: 40.5, width: 18, height: 348, boxSizing: 'border-box', border: '1px solid #888' }} />

      {/* legend */}
      <div
        style={{
          position: 'absolute',
          left: 647,
          top: 47,
          width: 164,
          height: 38,
          boxSizing: 'border-box',
          background: 'rgba(255,255,255,0.8)',
          border: '1px solid rgba(204,204,204,0.8)',
          borderRadius: 3,
        }}
      >
        {legendEntries.map((entry, i) => (
          <div key={entry.label} style={{ position: 'absolute', left: 4, top: 2 + i * 17.5, height: 17, display: 'flex', alignItems: 'center' }}>
            <div style={{ width: 24, height: 1, background: entry.color, marginRight: 9 }} />
            <span style={{ fontFamily: FONT, fontSize: 11.5, color: INK, whiteSpace: 'nowrap' }}>{entry.label}</span>
          </div>
        ))}
      </div>

      {/* titles and labels */}
      <Txt x={159} y={20} size={18}>Location</Txt>
      <Txt x={639} y={20} size={19.8}>Moment magnitude estimation</Txt>
      <Txt x={25} y={53} size={22}>a)</Txt>
      <Txt x={305} y={52} size={22}>b)</Txt>
      <Txt x={595} y={55} size={22}>c)</Txt>
      <Txt x={27} y={266} size={13}>i)</Txt>
      <Txt x={43} y={132} rotate={-90}>Y (km)</Txt>
      <Txt x={160} y={250}>X (km)</Txt>
      <Txt x={160} y={416.5}>X' (km)</Txt>
      <Txt x={25} y={332} rotate={-90}>Depth (km)</Txt>
      <Txt x={304} y={215} rotate={-90}><AmaxLabel /></Txt>
      <Txt x={600} y={215} rotate={-90}><AmaxLabel /></Txt>
      <Txt x={455} y={412}>Distance (km)</Txt>
      <Txt x={808} y={412}>Distance (km)</Txt>
      <Txt x={1056} y={215} rotate={-90}>
        <i>M</i><sub style={{ fontSize: 9, fontStyle: 'italic' }}>W</sub>
      </Txt>

      {/* annotations on the map */}
      <Txt x={200} y={123} size={12.5}>August 31<sup style={{ fontSize: 8 }}>st</sup></Txt>
      <Txt x={125.5} y={169} size={12.5}>June 25<sup style={{ fontSize: 8 }}>th</sup></Txt>
      <Txt x={134} y={205} size={10} style={{ color: '#888' }}>view</Txt>
      <Txt x={155} y={216} size={10} style={{ color: '#888' }}>direction in i)</Txt>
      <svg style={{ position: 'absolute', left: 0, top: 0 }} width={260} height={230}>
        <polygon
          points="137.3,199.9 132.7,198.1 136.2,188.7 132.9,187.5 140.7,183.7 144.1,191.7 140.9,190.5"
          fill="#c4c4c4"
          stroke="#aaa"
          strokeWidth={0.5}
        />
      </svg>

      {/* fitted magnitudes */}
      <Txt x={929} y={192} size={19} rotate={5} style={{ fontWeight: 700, color: '#000' }}>
        <i>M</i><sub style={{ fontSize: 13, fontStyle: 'italic' }}>w</sub>=1.05
      </Txt>
      <Txt x={924} y={230} size={19} rotate={5} style={{ fontWeight: 700, color: '#8a8a8a' }}>
        <i>M</i><sub style={{ fontSize: 13, fontStyle: 'italic' }}>w</sub>=0.48
      </Txt>
    </div>
  )
}
